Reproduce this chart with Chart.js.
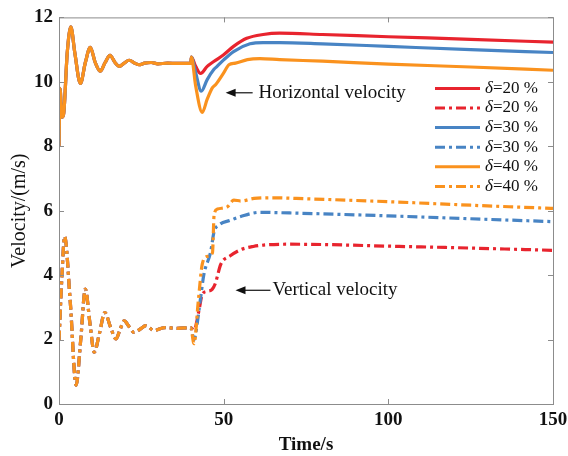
<!DOCTYPE html>
<html>
<head>
<meta charset="utf-8">
<script src="https://cdn.jsdelivr.net/npm/chart.js@4.4.1/dist/chart.umd.min.js"></script>
<style>
  html, body { margin: 0; padding: 0; background: #fff; }
  #wrap { width: 568px; height: 456px; }
</style>
</head>
<body>
<div id="wrap"><canvas id="chart" width="568" height="456"></canvas></div>
<script>
// Time (s) and velocity (m/s) samples; all cases share the same response before t = 40 s
const tEarly = [0, 0.3, 0.9, 1.4, 2.5, 3.6, 4.8, 6.5, 8.0, 9.5, 11.0, 12.5, 14.0, 15.5, 17.0, 18.3, 19.8, 21.3, 23.0, 24.3, 26.0, 28.0, 30.0, 33.0, 36.0, 40.0];
const horizEarly = [8.0, 9.8, 8.9, 9.0, 10.9, 11.71, 10.9, 9.95, 10.6, 11.07, 10.6, 10.33, 10.6, 10.82, 10.6, 10.48, 10.58, 10.67, 10.58, 10.53, 10.58, 10.6, 10.56, 10.58, 10.57, 10.57];

const tVertEarly = [0, 0.9, 1.7, 3.4, 5.2, 6.6, 8.0, 9.4, 10.7, 12.3, 13.9, 15.6, 17.3, 18.5, 19.8, 21.3, 22.8, 24.6, 26.4, 28.9, 32.0, 36.0, 40.0];
const vertEarly = [1.97, 4.0, 5.2, 3.2, 0.58, 2.0, 3.57, 2.5, 1.61, 2.2, 2.84, 2.4, 2.02, 2.3, 2.58, 2.4, 2.22, 2.32, 2.43, 2.28, 2.37, 2.35, 2.37];

// Horizontal velocity after the disturbance at t = 40 s
const tH20 = [40.2, 41.5, 43.0, 45.0, 47.0, 50.0, 53.0, 57.0, 62.0, 67.0, 80.0, 100.0, 125.0, 150.0];
const horiz20 = [10.77, 10.48, 10.26, 10.48, 10.63, 10.84, 11.1, 11.35, 11.47, 11.51, 11.47, 11.4, 11.32, 11.23];
const tH30 = [40.2, 41.5, 43.2, 45.0, 47.0, 48.0, 50.0, 53.0, 58.0, 62.0, 67.0, 80.0, 100.0, 125.0, 150.0];
const horiz30 = [10.77, 10.28, 9.71, 10.07, 10.38, 10.48, 10.68, 10.94, 11.18, 11.22, 11.22, 11.18, 11.1, 11.0, 10.91];
const tH40 = [40.2, 41.5, 43.5, 45.0, 46.6, 47.6, 50.0, 51.6, 53.6, 57.2, 61.0, 67.0, 80.0, 100.0, 125.0, 150.0];
const horiz40 = [10.77, 9.87, 9.05, 9.46, 9.82, 9.92, 10.28, 10.53, 10.58, 10.69, 10.72, 10.69, 10.64, 10.55, 10.46, 10.36];

// Vertical velocity after t = 40 s
const tV20 = [41.0, 42.5, 43.5, 45.0, 46.5, 47.5, 49.1, 52.0, 55.2, 59.0, 63.0, 70.0, 80.0, 100.0, 125.0, 150.0];
const vert20 = [2.3, 2.9, 3.4, 3.5, 3.56, 3.75, 4.33, 4.6, 4.79, 4.89, 4.94, 4.96, 4.95, 4.9, 4.84, 4.77];
const tV30 = [41.0, 41.5, 43.0, 44.0, 46.0, 47.1, 48.6, 52.0, 55.2, 61.0, 70.0, 100.0, 125.0, 150.0];
const vert30 = [2.0, 2.18, 3.3, 4.03, 4.7, 5.35, 5.56, 5.7, 5.82, 5.95, 5.93, 5.84, 5.75, 5.66];
const tV40 = [41.0, 42.3, 43.5, 45.0, 46.6, 47.1, 48.1, 51.1, 53.1, 55.2, 59.2, 65.0, 75.0, 100.0, 125.0, 150.0];
const vert40 = [1.87, 3.2, 4.34, 4.58, 4.69, 5.87, 6.05, 6.12, 6.33, 6.3, 6.38, 6.4, 6.37, 6.28, 6.17, 6.07];

const caseLabels = ['δ=20 %', 'δ=20 %', 'δ=30 %', 'δ=30 %', 'δ=40 %', 'δ=40 %'];
const xTicks = [0, 50, 100, 150];
const yTicks = [0, 2, 4, 6, 8, 10, 12];

const RED = 'rgb(232,36,46)';
const BLUE = 'rgb(72,132,196)';
const ORANGE = 'rgb(250,146,30)';
const DASHDOT = [10, 4, 3, 4];
const SERIF = '"Liberation Serif", "Times New Roman", serif';

function pts(ts, vs) {
  return ts.map((t, i) => ({ x: t, y: vs[i] }));
}

function series(label, color, dash, data, order) {
  return {
    label: label,
    data: data,
    borderColor: color,
    backgroundColor: color,
    borderWidth: 3.2,
    borderDash: dash,
    pointRadius: 0,
    cubicInterpolationMode: 'monotone',
    fill: false,
    order: order
  };
}

const datasets = [
  series(caseLabels[0], RED, [], pts(tEarly.concat(tH20), horizEarly.concat(horiz20)), 2),
  series(caseLabels[1], RED, DASHDOT, pts(tVertEarly.concat(tV20), vertEarly.concat(vert20)), 2),
  series(caseLabels[2], BLUE, [], pts(tEarly.concat(tH30), horizEarly.concat(horiz30)), 1),
  series(caseLabels[3], BLUE, DASHDOT, pts(tVertEarly.concat(tV30), vertEarly.concat(vert30)), 1),
  series(caseLabels[4], ORANGE, [], pts(tEarly.concat(tH40), horizEarly.concat(horiz40)), 0),
  series(caseLabels[5], ORANGE, DASHDOT, pts(tVertEarly.concat(tV40), vertEarly.concat(vert40)), 0)
];

// box around the plot with small inward ticks on all four sides
const framePlugin = {
  id: 'frame',
  afterDatasetsDraw(chart) {
    const { ctx, chartArea: a, scales } = chart;
    ctx.save();
    ctx.strokeStyle = '#8c8c8c';
    ctx.lineWidth = 1;
    ctx.strokeRect(a.left + 0.5, a.top + 0.5, a.right - a.left, a.bottom - a.top);
    ctx.beginPath();
    xTicks.forEach(v => {
      const x = Math.round(scales.x.getPixelForValue(v)) + 0.5;
      ctx.moveTo(x, a.bottom); ctx.lineTo(x, a.bottom - 5);
      ctx.moveTo(x, a.top); ctx.lineTo(x, a.top + 5);
    });
    yTicks.forEach(v => {
      const y = Math.round(scales.y.getPixelForValue(v)) + 0.5;
      ctx.moveTo(a.left, y); ctx.lineTo(a.left + 5, y);
      ctx.moveTo(a.right, y); ctx.lineTo(a.right - 5, y);
    });
    ctx.stroke();
    ctx.restore();
  }
};

// legend block in the upper right, drawn from the datasets
const legendPlugin = {
  id: 'caseLegend',
  afterDraw(chart) {
    const { ctx, chartArea: a } = chart;
    const x0 = a.right - 118;
    const y0 = a.top + 71;
    ctx.save();
    chart.data.datasets.forEach((ds, i) => {
      const y = y0 + i * 19.6;
      ctx.strokeStyle = ds.borderColor;
      ctx.lineWidth = 3;
      ctx.setLineDash(ds.borderDash);
      ctx.beginPath();
      ctx.moveTo(x0, y);
      ctx.lineTo(x0 + 45, y);
      ctx.stroke();
      ctx.setLineDash([]);
      ctx.fillStyle = '#111';
      ctx.textBaseline = 'middle';
      ctx.font = 'italic 17px ' + SERIF;
      ctx.fillText('δ', x0 + 50, y);
      const w = ctx.measureText('δ').width;
      ctx.font = '17px ' + SERIF;
      ctx.fillText(ds.label.slice(1), x0 + 50 + w, y);
    });
    ctx.restore();
  }
};

// arrows with captions pointing at the two groups of curves
const notes = [
  { text: 'Horizontal velocity', head: 50.6, tail: 58.8, y: 9.66, textX: 60.6 },
  { text: 'Vertical velocity', head: 53.6, tail: 64.2, y: 3.53, textX: 64.8 }
];
const notePlugin = {
  id: 'notes',
  afterDraw(chart) {
    const { ctx, scales } = chart;
    ctx.save();
    notes.forEach(n => {
      const y = scales.y.getPixelForValue(n.y);
      const xh = scales.x.getPixelForValue(n.head);
      const xt = scales.x.getPixelForValue(n.tail);
      ctx.strokeStyle = '#111';
      ctx.fillStyle = '#111';
      ctx.lineWidth = 1.2;
      ctx.beginPath();
      ctx.moveTo(xt, y);
      ctx.lineTo(xh + 6, y);
      ctx.stroke();
      ctx.beginPath();
      ctx.moveTo(xh, y);
      ctx.lineTo(xh + 10, y - 4);
      ctx.lineTo(xh + 10, y + 4);
      ctx.closePath();
      ctx.fill();
      ctx.font = '19px ' + SERIF;
      ctx.textBaseline = 'middle';
      ctx.fillText(n.text, scales.x.getPixelForValue(n.textX), y);
    });
    ctx.restore();
  }
};

const ctx = document.getElementById('chart').getContext('2d');
const chart = new Chart(ctx, {
  type: 'line',
  data: { datasets: datasets },
  options: {
    responsive: false,
    animation: false,
    layout: { padding: { left: 0, top: 14, right: 15, bottom: 0 } },
    plugins: {
      legend: { display: false },
      tooltip: { enabled: false }
    },
    scales: {
      x: {
        type: 'linear',
        min: 0,
        max: 150,
        afterBuildTicks: s => { s.ticks = xTicks.map(v => ({ value: v })); },
        afterFit: s => {
          s.height = 52;
          // let the "150" label run into the right margin
          s.paddingLeft = 0;
          s.paddingRight = 0;
        },
        grid: { display: false, drawTicks: false },
        border: { display: false },
        ticks: {
          color: '#111',
          padding: 5,
          maxRotation: 0,
          font: { family: SERIF, size: 19, weight: 'bold' }
        },
        title: {
          display: true,
          text: 'Time/s',
          color: '#111',
          padding: { top: 0, bottom: 0 },
          font: { family: SERIF, size: 19, weight: 'bold' }
        }
      },
      y: {
        type: 'linear',
        min: 0,
        max: 12,
        afterBuildTicks: s => { s.ticks = yTicks.map(v => ({ value: v })); },
        afterFit: s => { s.width = 59; },
        grid: { display: false, drawTicks: false },
        border: { display: false },
        ticks: {
          color: '#111',
          padding: 6,
          font: { family: SERIF, size: 19, weight: 'bold' }
        },
        title: {
          display: true,
          text: 'Velocity/(m/s)',
          color: '#111',
          padding: { top: 8, bottom: 0 },
          font: { family: SERIF, size: 20 }
        }
      }
    }
  },
  plugins: [framePlugin, legendPlugin, notePlugin]
});
</script>
</body>
</html>
